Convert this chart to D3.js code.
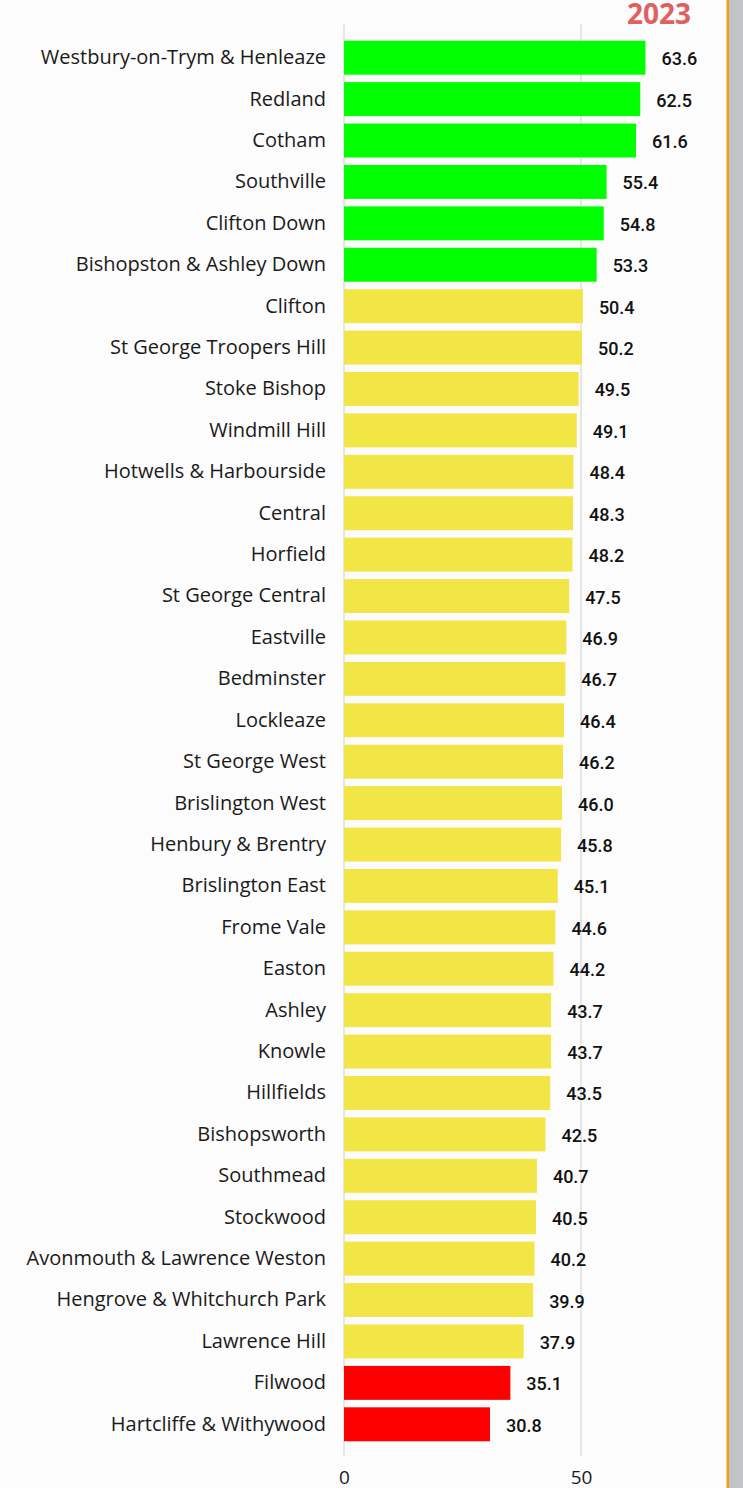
<!DOCTYPE html>
<html>
<head>
<meta charset="utf-8">
<script src="https://cdn.jsdelivr.net/npm/d3@7"></script>
<style>
  body { margin: 0; background: #fcfcfc; }
</style>
</head>
<body>
<div id="chart"></div>
<script>
// ward names and values (2023)
var wards = ["Westbury-on-Trym & Henleaze", "Redland", "Cotham", "Southville", "Clifton Down",
  "Bishopston & Ashley Down", "Clifton", "St George Troopers Hill", "Stoke Bishop", "Windmill Hill",
  "Hotwells & Harbourside", "Central", "Horfield", "St George Central", "Eastville", "Bedminster",
  "Lockleaze", "St George West", "Brislington West", "Henbury & Brentry", "Brislington East",
  "Frome Vale", "Easton", "Ashley", "Knowle", "Hillfields", "Bishopsworth", "Southmead",
  "Stockwood", "Avonmouth & Lawrence Weston", "Hengrove & Whitchurch Park", "Lawrence Hill",
  "Filwood", "Hartcliffe & Withywood"]
var values = [63.6, 62.5, 61.6, 55.4, 54.8, 53.3, 50.4, 50.2, 49.5, 49.1, 48.4, 48.3, 48.2, 47.5,
  46.9, 46.7, 46.4, 46.2, 46.0, 45.8, 45.1, 44.6, 44.2, 43.7, 43.7, 43.5, 42.5, 40.7, 40.5, 40.2,
  39.9, 37.9, 35.1, 30.8]
var xTicks = [0, 50]
var title = "2023"

var dataset = wards.map(function(w, i) { return {ward: w, value: values[i]} })

var width = 743, height = 1488
var margin = {top: 37, bottom: 48, left: 344, right: 20}

var svg = d3.select("#chart")
  .append("svg")
  .attr("width", width)
  .attr("height", height)

svg.append("rect").attr("width", width).attr("height", height).attr("fill", "#fcfcfc")

// right edge frame
svg.append("rect").attr("x", 729).attr("y", 0).attr("width", 14).attr("height", height).attr("fill", "#c2c3c9")
svg.append("rect").attr("x", 726.5).attr("y", 0).attr("width", 2.5).attr("height", height).attr("fill", "#f0a010")

var x = d3.scaleLinear()
  .domain([0, 50])
  .range([margin.left, 581])

var y = d3.scaleBand()
  .domain(wards)
  .range([margin.top, 1445])
  .paddingInner(0.18)
  .paddingOuter(0.09)

// gridlines
svg.append("g")
  .selectAll("line")
  .data(xTicks)
  .enter()
  .append("line")
    .attr("x1", d => x(d))
    .attr("x2", d => x(d))
    .attr("y1", 24)
    .attr("y2", 1456)
    .attr("stroke", "#e6e6e6")
    .attr("stroke-width", 2)

var color = function(v) {
  if (v >= 53) return "#00ff00"
  if (v >= 37) return "#f2e546"
  return "#ff0000"
}

svg.selectAll("rect.bar")
  .data(dataset)
  .enter()
  .append("rect")
    .attr("class", "bar")
    .attr("x", x(0))
    .attr("y", d => y(d.ward))
    .attr("width", d => x(d.value) - x(0))
    .attr("height", y.bandwidth())
    .attr("fill", d => color(d.value))

// category labels
svg.append("g")
  .attr("transform", "translate(" + (margin.left - 18) + ",0)")
  .call(d3.axisLeft(y).tickSize(0).tickPadding(0))
  .call(g => g.select(".domain").remove())
  .selectAll("text")
    .style("font-family", "'Open Sans', 'Noto Sans', sans-serif")
    .style("font-size", "20px")
    .attr("fill", "#1a1a1a")

// value labels
svg.selectAll("text.val")
  .data(dataset)
  .enter()
  .append("text")
    .attr("class", "val")
    .attr("x", d => x(d.value) + 16)
    .attr("y", d => y(d.ward) + y.bandwidth() / 2 + 1)
    .attr("dy", "0.36em")
    .style("font-family", "Roboto, sans-serif")
    .style("font-weight", "500")
    .style("font-size", "18px")
    .attr("fill", "#111")
    .text(d => d3.format(".1f")(d.value))

// x axis
svg.append("g")
  .attr("transform", "translate(0,1464)")
  .call(d3.axisBottom(x).tickValues(xTicks).tickSize(0).tickPadding(6))
  .call(g => g.select(".domain").remove())
  .selectAll("text")
    .style("font-family", "'Open Sans', 'Noto Sans', sans-serif")
    .style("font-size", "19px")
    .attr("fill", "#1a1a1a")

// title
svg.append("text")
  .attr("x", 659)
  .attr("y", 24)
  .attr("text-anchor", "middle")
  .style("font-family", "'Open Sans', sans-serif")
  .style("font-weight", "700")
  .style("font-size", "28px")
  .attr("fill", "#e06060")
  .text(title)
</script>
</body>
</html>
